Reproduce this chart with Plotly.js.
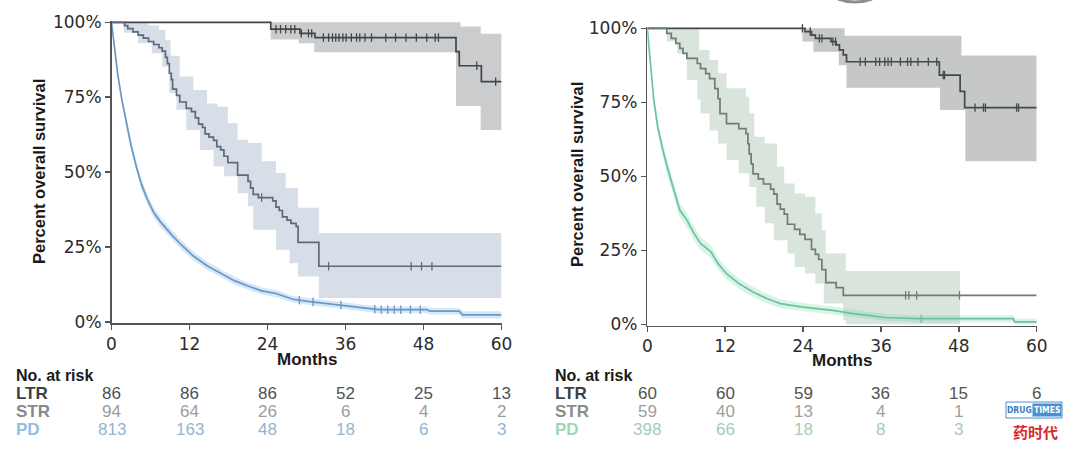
<!DOCTYPE html>
<html><head><meta charset="utf-8">
<script src="https://cdn.plot.ly/plotly-3.0.1.min.js"></script>
<style>html,body{margin:0;padding:0;background:#fff}#chart{width:1080px;height:449px}</style>
</head><body><div id="chart"></div>
<script>
// ---------- shared ----------
const riskMonths = [0, 12, 24, 36, 48, 60];
const xTicks = [0, 12, 24, 36, 48, 60];
const yTicks = [0, 25, 50, 75, 100];
const yTickText = ['0%', '25%', '50%', '75%', '100%'];
const groupLabels = ['LTR', 'STR', 'PD'];

// ---------- left panel (A) ----------
const A_LTR_t = [0, 24.5, 29.0, 31.3, 53.0, 53.5, 56.9, 60];
const A_LTR_s = [100, 97.7, 96.3, 94.9, 90.2, 85.5, 80.2, 80.2];
const A_LTR_ciT = [24.5, 28.8, 31.2, 53.0, 53.7, 56.8, 60];
const A_LTR_ciLo = [94.3, 93.0, 90.0, 72.1, 72.1, 64.1, 64.1];
const A_LTR_ciHi = [100, 100, 100, 100, 98.6, 96.2, 96.2];
const A_LTR_cens = [25.3, 26.0, 26.8, 27.6, 28.2, 29.2, 30.3, 30.8, 32.6, 33.4, 34.0, 34.5, 35.0, 35.6, 36.1, 36.9, 37.7, 38.2, 39.0, 40.0, 42.2, 43.7, 45.3, 46.9, 48.5, 49.8, 50.3, 56.2, 59.1];

const A_STR_t = [0, 2.0, 2.5, 3.3, 4.1, 4.9, 5.7, 6.5, 7.3, 7.8, 8.3, 8.6, 8.9, 9.2, 9.4, 10.0, 10.5, 11.5, 12.3, 12.9, 13.4, 14.0, 14.4, 15.0, 15.7, 16.2, 16.8, 17.3, 17.9, 19.4, 21.0, 21.4, 21.8, 22.6, 24.8, 25.3, 25.8, 26.3, 27.0, 27.6, 28.4, 28.7, 31.9, 60];
const A_STR_s = [100, 98.9, 97.9, 96.8, 95.7, 94.7, 93.6, 92.6, 91.5, 90.4, 88.3, 86.2, 83.0, 80.9, 77.7, 75.6, 73.4, 71.3, 70.2, 68.1, 66.0, 64.9, 62.8, 61.7, 60.6, 58.5, 57.4, 55.3, 53.2, 49.0, 46.9, 44.7, 42.6, 41.5, 40.4, 38.3, 37.2, 35.1, 34.0, 32.9, 31.9, 26.6, 18.6, 18.6];
const A_STR_ciT = [1.9, 4.1, 5.7, 6.2, 7.3, 7.8, 8.3, 8.9, 9.1, 10.0, 10.5, 11.5, 12.6, 13.6, 14.7, 15.7, 16.3, 17.3, 17.9, 19.4, 21.0, 21.8, 23.1, 24.1, 25.3, 26.8, 27.4, 28.7, 31.9, 60];
const A_STR_ciHi = [100, 100, 99.0, 99.0, 97.4, 97.4, 94.0, 94.0, 88.8, 88.8, 81.9, 81.9, 77.4, 77.4, 72.9, 72.9, 71.8, 71.8, 66.3, 60.8, 59.7, 59.7, 53.6, 53.6, 49.7, 44.7, 44.7, 38.1, 29.7, 29.7];
const A_STR_ciLo = [96.5, 93.0, 93.0, 89.7, 89.7, 85.2, 85.2, 76.3, 76.3, 70.8, 70.8, 64.1, 64.1, 57.4, 57.4, 51.9, 51.9, 48.6, 48.6, 43.0, 38.6, 30.8, 30.8, 30.8, 24.1, 24.1, 19.6, 15.2, 8.0, 8.0];
const A_STR_cens = [23.1, 33.4, 46.1, 47.7, 49.3];

const A_PD_t = [0, 0.5, 1.0, 1.6, 2.3, 3.0, 3.8, 4.6, 5.5, 6.5, 7.5, 8.5, 9.5, 11.0, 12.6, 14.7, 16.8, 18.9, 21.0, 23.1, 25.3, 27.9, 30.5, 33.2, 35.8, 38.5, 41.1, 48.5, 49.0, 53.5, 54.0, 60];
const A_PD_s = [100, 90.0, 82.0, 74.0, 66.0, 59.0, 52.0, 46.0, 41.0, 36.5, 33.5, 31.0, 28.5, 25.2, 22.0, 18.8, 16.3, 13.8, 12.0, 10.4, 9.5, 7.6, 6.8, 6.1, 5.6, 4.7, 4.1, 4.1, 3.6, 3.6, 2.4, 2.4];
const A_PD_ciHi = [100, 91.2, 83.5, 75.6, 67.7, 60.7, 53.7, 47.7, 42.7, 38.2, 35.2, 32.6, 30.1, 26.8, 23.5, 20.2, 17.6, 15.1, 13.2, 11.6, 10.7, 8.7, 7.9, 7.2, 6.7, 5.8, 5.2, 5.2, 4.7, 4.7, 3.6, 3.6];
const A_PD_ciLo = [100, 88.8, 80.5, 72.4, 64.3, 57.3, 50.3, 44.3, 39.3, 34.8, 31.8, 29.4, 26.9, 23.6, 20.5, 17.4, 15.0, 12.5, 10.8, 9.2, 8.3, 6.5, 5.7, 5.0, 4.5, 3.6, 3.0, 3.0, 2.5, 2.5, 1.2, 1.2];
const A_PD_cens = [28.9, 31.0, 35.3, 40.5, 41.5, 42.5, 43.5, 44.5, 46.0, 47.5];

const A_risk_LTR = [86, 86, 86, 52, 25, 13];
const A_risk_STR = [94, 64, 26, 6, 4, 2];
const A_risk_PD = [813, 163, 48, 18, 6, 3];

// ---------- right panel (B) ----------
const B_LTR_t = [0, 24.3, 25.3, 25.9, 28.3, 29.1, 29.6, 30.2, 30.7, 45.0, 48.2, 48.9, 60];
const B_LTR_s = [100, 98.9, 97.7, 96.6, 95.5, 94.4, 92.7, 91.0, 88.7, 84.2, 78.7, 73.2, 73.2];
const B_LTR_ciT = [23.9, 25.6, 29.5, 30.4, 30.7, 45.1, 48.4, 49.0, 60];
const B_LTR_ciHi = [100, 100, 100, 97.5, 97.5, 97.5, 90.8, 90.8, 90.8];
const B_LTR_ciLo = [95.5, 92.1, 87.5, 87.5, 79.9, 72.4, 72.4, 55.1, 55.1];
const B_LTR_cens = [23.9, 25.1, 26.5, 26.9, 28.6, 29.0, 32.8, 33.6, 35.2, 35.8, 36.6, 37.1, 37.6, 39.0, 40.1, 40.6, 41.7, 43.3, 44.6, 45.6, 45.8, 50.5, 51.8, 52.1, 56.9, 57.2];

const B_STR_t = [0, 3.0, 3.7, 4.4, 5.0, 5.5, 6.1, 7.7, 8.2, 9.0, 9.6, 10.4, 10.9, 11.2, 12.2, 14.1, 15.2, 15.5, 15.7, 16.0, 16.3, 17.1, 17.9, 19.0, 19.5, 20.0, 20.5, 21.1, 21.6, 22.7, 23.5, 24.3, 25.3, 25.9, 26.4, 26.9, 27.5, 29.1, 30.2, 60];
const B_STR_s = [100, 98.3, 96.6, 94.9, 93.2, 91.5, 89.8, 88.1, 86.4, 84.7, 83.0, 79.6, 76.2, 71.2, 67.8, 66.1, 64.4, 61.0, 57.6, 54.2, 50.8, 49.1, 47.4, 45.7, 44.0, 40.6, 38.9, 37.2, 33.8, 32.1, 30.4, 28.7, 25.3, 23.6, 21.9, 18.5, 14.1, 12.4, 9.8, 9.8];
const B_STR_ciT = [3.0, 4.6, 6.1, 7.7, 8.0, 8.2, 9.6, 10.9, 12.2, 14.1, 15.2, 15.7, 16.5, 16.8, 18.1, 19.5, 20.0, 21.1, 21.6, 22.7, 24.3, 25.9, 26.9, 27.2, 27.5, 30.2, 30.6, 48.2];
const B_STR_ciHi = [100, 100, 100, 100, 92.7, 92.7, 89.3, 84.8, 79.7, 79.7, 76.9, 71.3, 63.4, 63.4, 61.1, 61.1, 53.2, 47.6, 47.6, 44.2, 43.1, 37.4, 31.8, 31.8, 23.9, 23.9, 18.0, 18.0];
const B_STR_ciLo = [95.5, 91.5, 82.5, 75.9, 75.9, 71.2, 65.5, 61.1, 55.5, 51.0, 51.0, 46.4, 46.4, 39.7, 34.1, 28.4, 28.4, 28.4, 23.9, 19.4, 17.2, 13.8, 13.8, 7.0, 7.0, 1.4, 0, 0];
const B_STR_cens = [39.8, 40.3, 41.5, 48.1];

const B_PD_t = [0, 0.5, 1.0, 1.6, 2.4, 3.2, 4.0, 5.0, 6.1, 7.2, 8.2, 9.8, 10.9, 12.2, 14.1, 16.3, 18.4, 20.5, 23.7, 28.6, 31.2, 34.4, 36.6, 41.9, 56.4, 56.6, 60];
const B_PD_s = [100, 87.0, 75.8, 66.7, 58.8, 52.1, 46.4, 38.6, 35.2, 30.7, 27.3, 24.5, 20.5, 17.1, 13.8, 10.9, 8.7, 7.0, 5.9, 4.7, 3.8, 3.0, 2.3, 1.9, 1.9, 0.8, 0.8];
const B_PD_ciHi = [100, 88.7, 77.8, 69.0, 61.2, 54.6, 48.9, 41.0, 37.6, 33.0, 29.5, 26.6, 22.5, 19.0, 15.6, 12.6, 10.3, 8.5, 7.3, 6.0, 5.0, 4.2, 3.5, 3.1, 3.1, 2.0, 2.0];
const B_PD_ciLo = [100, 85.3, 73.8, 64.4, 56.4, 49.6, 43.9, 36.2, 32.8, 28.4, 25.1, 22.4, 18.5, 15.2, 12.0, 9.2, 7.1, 5.5, 4.5, 3.4, 2.6, 1.8, 1.1, 0.7, 0.7, 0, 0];
const B_PD_cens = [42.2];

const B_risk_LTR = [60, 60, 59, 36, 15, 6];
const B_risk_STR = [59, 40, 13, 4, 1, null];
const B_risk_PD = [398, 66, 18, 8, 3, null];

// ---------- helpers ----------
function stepAt(t, s, x) { let v = s[0]; for (let i = 0; i < t.length; i++) { if (t[i] <= x) v = s[i]; } return v; }
function linAt(t, s, x) {
  for (let i = 1; i < t.length; i++) {
    if (x <= t[i]) { const f = (x - t[i-1]) / (t[i] - t[i-1]); return s[i-1] + f * (s[i] - s[i-1]); }
  }
  return s[s.length - 1];
}

const panels = [
  { xa: 'x', ya: 'y', groups: [
    { t: A_LTR_t, s: A_LTR_s, ciT: A_LTR_ciT, lo: A_LTR_ciLo, hi: A_LTR_ciHi, cens: A_LTR_cens, shape: 'hv', line: '#40454b', fill: 'rgba(118,121,127,0.38)' },
    { t: A_STR_t, s: A_STR_s, ciT: A_STR_ciT, lo: A_STR_ciLo, hi: A_STR_ciHi, cens: A_STR_cens, shape: 'hv', line: '#5b6a7c', fill: 'rgba(110,135,172,0.28)' },
    { t: A_PD_t, s: A_PD_s, ciT: A_PD_t, lo: A_PD_ciLo, hi: A_PD_ciHi, cens: A_PD_cens, shape: 'linear', line: '#6a97c3', fill: 'rgba(120,182,238,0.32)' }
  ]},
  { xa: 'x2', ya: 'y2', groups: [
    { t: B_LTR_t, s: B_LTR_s, ciT: B_LTR_ciT, lo: B_LTR_ciLo, hi: B_LTR_ciHi, cens: B_LTR_cens, shape: 'hv', line: '#434a46', fill: 'rgba(112,118,114,0.40)' },
    { t: B_STR_t, s: B_STR_s, ciT: B_STR_ciT, lo: B_STR_ciLo, hi: B_STR_ciHi, cens: B_STR_cens, shape: 'hv', line: '#6c7d73', fill: 'rgba(120,158,133,0.28)' },
    { t: B_PD_t, s: B_PD_s, ciT: B_PD_t, lo: B_PD_ciLo, hi: B_PD_ciHi, cens: B_PD_cens, shape: 'linear', line: '#6cc39b', fill: 'rgba(100,212,160,0.26)' }
  ]}
];

const traces = [];
panels.forEach(p => {
  p.groups.forEach(g => {
    traces.push({ x: g.ciT, y: g.lo, xaxis: p.xa, yaxis: p.ya, mode: 'lines', line: { width: 0, shape: g.shape }, hoverinfo: 'skip', showlegend: false });
    traces.push({ x: g.ciT, y: g.hi, xaxis: p.xa, yaxis: p.ya, mode: 'lines', line: { width: 0, shape: g.shape }, fill: 'tonexty', fillcolor: g.fill, hoverinfo: 'skip', showlegend: false });
  });
});
panels.forEach(p => {
  p.groups.forEach(g => {
    traces.push({ x: g.t, y: g.s, xaxis: p.xa, yaxis: p.ya, mode: 'lines', line: { width: 1.7, color: g.line, shape: g.shape }, showlegend: false });
    const cy = g.cens.map(c => g.shape === 'hv' ? stepAt(g.t, g.s, c) : linAt(g.t, g.s, c));
    traces.push({ x: g.cens, y: cy, xaxis: p.xa, yaxis: p.ya, mode: 'markers', marker: { symbol: 'line-ns', size: 6, line: { width: 1.3, color: g.line } }, showlegend: false, cliponaxis: false });
  });
});

const axisFont = { family: 'DejaVu Sans, sans-serif', size: 17, color: '#2b2b2b' };
function xAxis(domain, anchor) {
  return { domain: domain, anchor: anchor, range: [0, 60], tickvals: xTicks, ticks: 'outside', ticklen: 5, tickwidth: 1.5, tickcolor: '#555',
    showline: true, linecolor: '#555', linewidth: 1.5, showgrid: false, zeroline: false, tickfont: axisFont, fixedrange: true };
}
function yAxis(domain, anchor) {
  return { domain: domain, anchor: anchor, range: [-0.4, 100.6], tickvals: yTicks, ticktext: yTickText, ticks: 'outside', ticklen: 5, tickwidth: 1.5, tickcolor: '#555',
    showline: true, linecolor: '#555', linewidth: 1.5, showgrid: false, zeroline: false, tickfont: axisFont, fixedrange: true };
}

const H = 449, W = 1080;
const py = px => 1 - px / H;
const annotations = [];
const titleFont = { family: 'Liberation Sans, Arial, sans-serif', size: 16.5, color: '#1a1a1a' };
[[39, 171, 307, 359], [577, 175, 842, 360]].forEach(a => {
  annotations.push({ xref: 'paper', yref: 'paper', x: a[0] / W, y: py(a[1]), text: '<b>Percent overall survival</b>', textangle: -90, showarrow: false, font: titleFont, xanchor: 'center', yanchor: 'middle' });
  annotations.push({ xref: 'paper', yref: 'paper', x: a[2] / W, y: py(a[3]), text: '<b>Months</b>', showarrow: false, font: { family: 'Liberation Sans, Arial, sans-serif', size: 17, color: '#1a1a1a' }, xanchor: 'center', yanchor: 'middle' });
});

const rowY = [393, 411, 429];
const riskTables = [
  { xref: 'x', left: 14, data: [A_risk_LTR, A_risk_STR, A_risk_PD],
    labelColors: ['#3c4249', '#858a90', '#92bedd'], numColors: ['#4e5256', '#9a9da1', '#8fb5d3'] },
  { xref: 'x2', left: 553, data: [B_risk_LTR, B_risk_STR, B_risk_PD],
    labelColors: ['#3d423f', '#8a8e8b', '#a2d5b7'], numColors: ['#4f5451', '#9c9f9d', '#a3cdb4'] }
];
const tblFont = 'Liberation Sans, Arial, sans-serif';
riskTables.forEach(tb => {
  annotations.push({ xref: 'paper', yref: 'paper', x: tb.left / W, y: py(375), text: '<b>No. at risk</b>', showarrow: false, xanchor: 'left', yanchor: 'middle', font: { family: tblFont, size: 16, color: '#1a1a1a' } });
  groupLabels.forEach((lab, gi) => {
    annotations.push({ xref: 'paper', yref: 'paper', x: tb.left / W, y: py(rowY[gi]), text: '<b>' + lab + '</b>', showarrow: false, xanchor: 'left', yanchor: 'middle', font: { family: tblFont, size: 17, color: tb.labelColors[gi] } });
    tb.data[gi].forEach((v, i) => {
      if (v === null) return;
      annotations.push({ xref: tb.xref, yref: 'paper', x: riskMonths[i], y: py(rowY[gi]), text: String(v), showarrow: false, xanchor: 'center', yanchor: 'middle', font: { family: tblFont, size: 17, color: tb.numColors[gi] } });
    });
  });
});

// watermark
const wmFont = 'DejaVu Sans Condensed, Liberation Sans Narrow, sans-serif';
annotations.push({ xref: 'paper', yref: 'paper', x: 1019 / W, y: py(410), text: '<b>DRUG</b>', showarrow: false, xanchor: 'center', yanchor: 'middle', font: { family: wmFont, size: 8.5, color: '#3a7cc0' } });
annotations.push({ xref: 'paper', yref: 'paper', x: 1047 / W, y: py(410), text: '<b>TIMES</b>', showarrow: false, xanchor: 'center', yanchor: 'middle', bgcolor: '#4a90d0', borderpad: 1, font: { family: wmFont, size: 8.5, color: '#ffffff' } });
annotations.push({ xref: 'paper', yref: 'paper', x: 1035 / W, y: py(431), text: '<b>药时代</b>', showarrow: false, xanchor: 'center', yanchor: 'middle', font: { family: 'Noto Sans CJK SC, sans-serif', size: 15, color: '#d42a2a' } });

const layout = {
  width: W, height: H, margin: { l: 0, r: 0, t: 0, b: 0 }, paper_bgcolor: '#ffffff', plot_bgcolor: 'rgba(0,0,0,0)',
  showlegend: false,
  xaxis: xAxis([111.5 / W, 501.5 / W], 'y'),
  yaxis: yAxis([py(323.2), py(20.5)], 'x'),
  xaxis2: xAxis([647.3 / W, 1036.7 / W], 'y2'),
  yaxis2: yAxis([py(325.5), py(26.5)], 'x2'),
  annotations: annotations,
  shapes: [
    { type: 'rect', xref: 'paper', yref: 'paper', x0: 1006 / W, x1: 1062 / W, y0: py(418), y1: py(402), line: { color: '#4a90d0', width: 1 }, fillcolor: 'rgba(0,0,0,0)' },
    { type: 'path', xref: 'paper', yref: 'paper', path: 'M ' + (838 / W) + ',' + py(-1) + ' Q ' + (855 / W) + ',' + py(5) + ' ' + (872 / W) + ',' + py(-1), line: { color: '#8e8e8e', width: 3 } }
  ]
};

Plotly.newPlot('chart', traces, layout, { staticPlot: true, displayModeBar: false });
</script>
</body></html>
